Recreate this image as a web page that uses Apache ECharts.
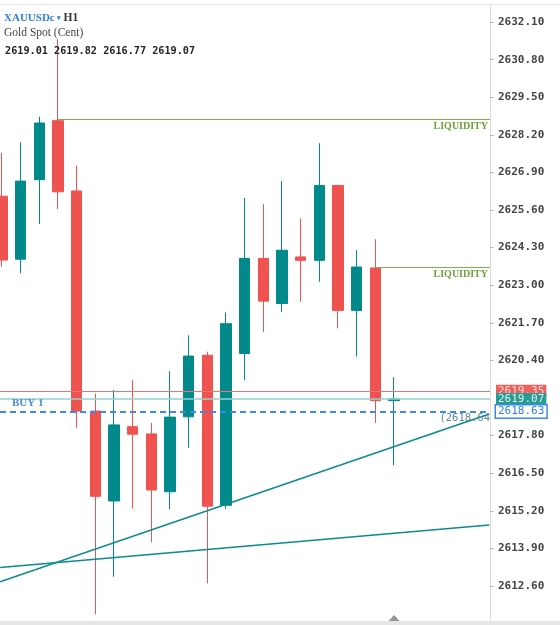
<!DOCTYPE html>
<html>
<head>
<meta charset="utf-8">
<script src="https://cdn.jsdelivr.net/npm/echarts@6/dist/echarts.min.js"></script>
<style>
    html, body { margin: 0; padding: 0; background: #fff; }
    #chart { width: 560px; height: 625px; }
</style>
</head>
<body>
<div id="chart"></div>
<script>
var symbolName = 'XAUUSDc';
var timeframe = 'H1';
var description = 'Gold Spot (Cent)';

// H1 candles, oldest first
var opens  = [2626.08, 2623.90, 2626.65, 2628.69, 2626.26, 2618.65, 2615.54, 2618.11, 2617.86, 2615.86, 2618.45,
              2620.58, 2615.39, 2620.64, 2623.93, 2622.37, 2623.98, 2623.86, 2626.45, 2622.13, 2623.60, 2619.01];
var closes = [2623.87, 2626.60, 2628.61, 2626.23, 2618.65, 2615.70, 2618.17, 2617.85, 2615.92, 2618.44, 2620.55,
              2615.36, 2621.67, 2623.93, 2622.45, 2624.21, 2623.86, 2626.45, 2622.13, 2623.63, 2619.01, 2619.07];
var lows   = [2623.64, 2623.41, 2625.12, 2625.63, 2618.07, 2611.62, 2612.92, 2615.28, 2614.11, 2615.25, 2617.38,
              2612.69, 2615.27, 2619.72, 2621.38, 2622.08, 2622.43, 2623.12, 2621.51, 2620.53, 2618.24, 2616.77];
var highs  = [2627.58, 2627.94, 2628.83, 2631.51, 2627.13, 2619.26, 2619.38, 2619.72, 2618.24, 2620.03, 2621.27,
              2620.70, 2622.06, 2626.02, 2625.80, 2626.60, 2625.31, 2627.91, 2626.47, 2624.21, 2624.59, 2619.82];

var priceTicks = [2612.60, 2613.90, 2615.20, 2616.50, 2617.80, 2620.40, 2621.70, 2623.00,
                  2624.30, 2625.60, 2626.90, 2628.20, 2629.50, 2630.80, 2632.10];

var askPrice = 2619.35;
var bidPrice = 2619.07;
var buyPrice = 2618.63;
var buyLabel = 'BUY 1';
var buyNote = '(2618.64';

var liquidityStart = [3, 20];
var liquidityPrice = [2628.74, 2623.63];

// trendlines: [index, price] at both ends of the visible range
var trendFrom = [[-0.1, 2612.75], [-0.1, 2613.24]];
var trendTo   = [[26.1, 2618.55], [26.1, 2614.71]];

var xMin = -0.107, xMax = 26.14;
var yMin = 2611.39, yMax = 2632.69;

var upColor = '#01898b';
var downColor = '#ef5350';
var monoFont = 'DejaVu Sans Mono';
var serifFont = 'Liberation Serif';
var clear = 'rgba(0,0,0,0)';

var candles = opens.map(function (o, i) {
    return [i, o, closes[i], lows[i], highs[i]];
});
var last = candles.length - 1;
var ohlcText = [opens[last], highs[last], lows[last], closes[last]].map(function (v) {
    return v.toFixed(2);
}).join(' ');

var lines = [];
lines.push({
    yAxis: askPrice,
    lineStyle: { color: '#f0716e', width: 1, type: 'solid' },
    label: {
        show: true, position: 'end', distance: 6, formatter: askPrice.toFixed(2),
        backgroundColor: '#ef5f5c', color: '#f9dada', padding: [1, 2, 0, 2],
        fontFamily: monoFont, fontSize: 11
    }
});
lines.push({
    yAxis: bidPrice,
    lineStyle: { color: '#93d3cd', width: 1.5, type: 'solid' },
    label: {
        show: true, position: 'end', distance: 6, formatter: bidPrice.toFixed(2),
        backgroundColor: '#279b94', color: '#d9f0ee', padding: [1, 2, 0, 2],
        fontFamily: monoFont, fontSize: 11
    }
});
lines.push({
    yAxis: buyPrice,
    lineStyle: { color: '#3b89ec', width: 2, type: [6, 4] },
    label: {
        show: true, position: 'end', distance: 6, formatter: buyPrice.toFixed(2),
        backgroundColor: '#fff', color: '#2f7fe0', borderColor: '#3b89ec', borderWidth: 1.5,
        padding: [1, 2, 0, 2], fontFamily: monoFont, fontSize: 11
    }
});
lines.push({
    yAxis: buyPrice,
    lineStyle: { color: clear, width: 1 },
    label: {
        show: true, position: 'insideStartTop', distance: [12, 3], formatter: buyLabel, opacity: 1,
        color: '#4a8ad8', fontFamily: serifFont, fontWeight: 'bold', fontSize: 11
    }
});
lines.push({
    yAxis: buyPrice,
    lineStyle: { color: clear, width: 1 },
    label: {
        show: true, position: 'insideEndBottom', distance: [0, 1], formatter: buyNote, opacity: 1,
        color: '#5a8a90', fontFamily: monoFont, fontSize: 10.5
    }
});
for (var i = 0; i < liquidityStart.length; i++) {
    lines.push([
        {
            coord: [liquidityStart[i], liquidityPrice[i]],
            lineStyle: { color: '#7cb342', width: 1, type: 'solid' },
            label: {
                show: true, position: 'insideEndBottom', distance: [2, 2], formatter: 'LIQUIDITY',
                color: '#6da03c', fontFamily: serifFont, fontWeight: 'bold', fontSize: 10
            }
        },
        { coord: [xMax, liquidityPrice[i]] }
    ]);
}
for (var j = 0; j < trendFrom.length; j++) {
    lines.push([
        {
            coord: trendFrom[j],
            lineStyle: { color: '#0b8a8f', width: 1.5, type: 'solid' },
            label: { show: false }
        },
        { coord: trendTo[j] }
    ]);
}

var chart = echarts.init(document.getElementById('chart'));
chart.setOption({
    animation: false,
    backgroundColor: '#fff',
    title: [
        {
            left: 4, top: 11, padding: 0,
            text: '{s|' + symbolName + '}{a| ▾}{t| ' + timeframe + '}',
            textStyle: {
                rich: {
                    s: { fontFamily: serifFont, fontWeight: 'bold', fontSize: 11, color: '#2f7fe0', lineHeight: 14 },
                    a: { fontSize: 7, color: '#2f7fe0', lineHeight: 14 },
                    t: { fontFamily: serifFont, fontSize: 11.5, color: '#333', lineHeight: 14 }
                }
            }
        },
        {
            left: 4, top: 26, padding: 0,
            text: description,
            textStyle: { fontFamily: serifFont, fontSize: 11.5, fontWeight: 'normal', color: '#444', lineHeight: 14 }
        },
        {
            left: 5, top: 44, padding: 0,
            text: ohlcText,
            textStyle: { fontFamily: monoFont, fontSize: 10.2, fontWeight: 'bold', color: '#222', lineHeight: 14 }
        }
    ],
    grid: {
        left: 0, right: 70, top: 5, bottom: 4
    },
    xAxis: {
        type: 'value', min: xMin, max: xMax, show: false
    },
    yAxis: {
        type: 'value', position: 'right', min: yMin, max: yMax,
        axisLine: { show: true, onZero: false, lineStyle: { color: '#dcdcdc' } },
        axisTick: { show: true, length: 4, customValues: priceTicks, lineStyle: { color: '#bbb' } },
        axisLabel: {
            customValues: priceTicks, margin: 8,
            fontFamily: monoFont, fontSize: 11, fontWeight: 'bold', color: '#444',
            formatter: function (v) { return v.toFixed(2); }
        },
        splitLine: { show: false }
    },
    graphic: [
        { type: 'rect', left: 0, top: 4, shape: { width: 560, height: 1 }, style: { fill: '#e2e2e2' } },
        { type: 'rect', left: 0, bottom: 0, shape: { width: 560, height: 4 }, style: { fill: '#e6e6e6' } }
    ],
    series: [
        {
            type: 'candlestick',
            data: candles,
            encode: { x: 0, y: [1, 2, 3, 4] },
            barWidth: 11,
            itemStyle: {
                color: upColor, color0: downColor,
                borderColor: upColor, borderColor0: downColor, borderWidth: 1
            },
            markLine: {
                symbol: ['none', 'none'],
                silent: true,
                data: lines
            }
        },
        {
            type: 'scatter',
            data: [[last, yMin]],
            symbol: 'triangle',
            symbolSize: [11, 6],
            symbolOffset: [0, -3],
            itemStyle: { color: '#7a7a7a' },
            clip: false,
            z: 5
        }
    ]
});
</script>
</body>
</html>
